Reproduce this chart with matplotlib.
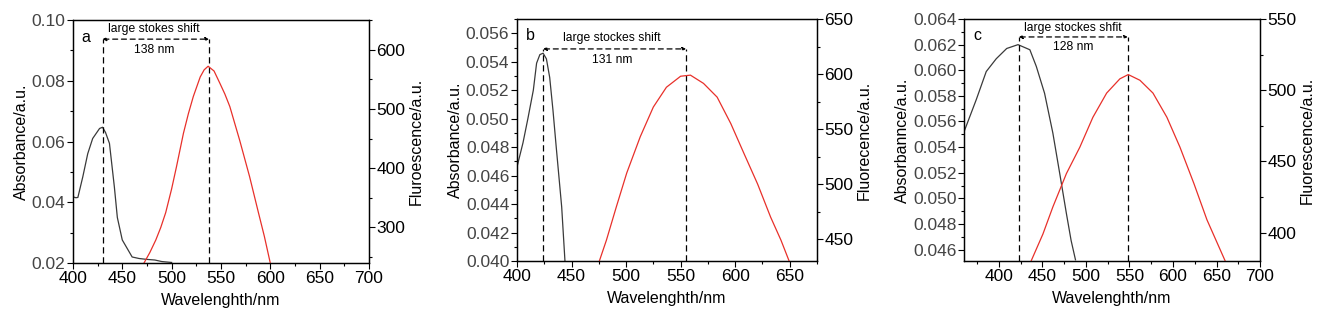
import matplotlib.pyplot as plt
from matplotlib.ticker import MultipleLocator, FormatStrFormatter

plt.rcParams["font.family"] = ["Liberation Sans", "DejaVu Sans"]

# ---------------- data ----------------
# panel a
a_abs_x = [400, 403, 405, 410, 415, 420, 427, 430, 433, 437, 442, 445, 450, 455, 460, 467, 475, 483, 490, 500]
a_abs_y = [0.0418, 0.0415, 0.0416, 0.0484, 0.056, 0.061, 0.0643, 0.0647, 0.063, 0.0594, 0.045, 0.035, 0.0276,
           0.0248, 0.022, 0.0215, 0.0212, 0.021, 0.0205, 0.0202]
a_fl_x = [472, 478, 484, 489, 494, 500, 505, 512, 517, 522, 529, 533, 537, 543, 549, 554, 559, 569, 579, 588, 594, 600]
a_fl_y = [240, 258, 279, 300, 325, 365, 403, 459, 492, 521, 554, 566, 572, 564, 543, 525, 504, 447, 386, 325, 285, 240]

# panel b
b_abs_x = [400, 405.5, 410, 415, 418, 421, 424, 427, 430, 433, 436, 441, 444]
b_abs_y = [0.0466, 0.0483, 0.050, 0.052, 0.0539, 0.0545, 0.0546, 0.0542, 0.0529, 0.0506, 0.048, 0.0438, 0.040]
b_fl_x = [475.5, 482, 491, 500.6, 513, 525, 537, 550, 559, 571, 583.5, 596, 608, 620.6, 632.5, 642, 649.5]
b_fl_y = [430, 449, 479, 510, 543, 570, 588, 598, 599, 591.5, 579, 555, 528, 500, 470, 449, 430]

# panel c
c_abs_x = [360, 374, 385.5, 397, 409, 422, 435.6, 443, 452.5, 462, 470, 477.6, 483, 488]
c_abs_y = [0.0552, 0.0577, 0.0599, 0.0609, 0.0617, 0.0620, 0.0616, 0.0603, 0.0582, 0.0551, 0.0519, 0.0488,
           0.0467, 0.0452]
c_fl_x = [437, 450.6, 462, 477.6, 493, 508, 523.8, 539, 548.6, 562, 577, 593, 608, 624, 639, 660]
c_fl_y = [380, 399, 418, 441.5, 460, 481, 498, 508, 511, 507, 498, 481, 460, 434.5, 409, 380]

panels = [
    dict(letter="a", ax_pos=[0.0548, 0.198, 0.2224, 0.741],
         abs_x=a_abs_x, abs_y=a_abs_y, fl_x=a_fl_x, fl_y=a_fl_y,
         xlim=(400, 700), ylim=(0.02, 0.10), ylim2=(240, 650),
         ymaj=0.02, ymin=0.01, yfmt="%.2f", y2maj=100, y2min=50,
         peaks=(430, 538), arrow_y=0.0937, title_y=0.0972, shift_y=0.0900,
         text="large stokes shift", shift="138 nm", text_x=482,
         ylabel="Absorbance/a.u.", ylabel2="Fluroescence/a.u."),
    dict(letter="b", ax_pos=[0.3884, 0.204, 0.2254, 0.738],
         abs_x=b_abs_x, abs_y=b_abs_y, fl_x=b_fl_x, fl_y=b_fl_y,
         xlim=(400, 675), ylim=(0.040, 0.057), ylim2=(430, 650),
         ymaj=0.002, ymin=0.001, yfmt="%.3f", y2maj=50, y2min=25,
         peaks=(424, 555), arrow_y=0.0549, title_y=0.0557, shift_y=0.0541,
         text="large stockes shift", shift="131 nm", text_x=487,
         ylabel="Absorbance/a.u.", ylabel2="Fluorecence/a.u."),
    dict(letter="c", ax_pos=[0.7243, 0.204, 0.2224, 0.738],
         abs_x=c_abs_x, abs_y=c_abs_y, fl_x=c_fl_x, fl_y=c_fl_y,
         xlim=(360, 700), ylim=(0.0451, 0.064), ylim2=(380, 550),
         ymaj=0.002, ymin=0.001, yfmt="%.3f", y2maj=50, y2min=25,
         peaks=(423, 548), arrow_y=0.0626, title_y=0.0633, shift_y=0.0618,
         text="large stockes shfit", shift="128 nm", text_x=485,
         ylabel="Absorbannce/a.u.", ylabel2="Fluorescence/a.u."),
]

fig = plt.figure(figsize=(13.31, 3.28), dpi=100)

for p in panels:
    ax = fig.add_axes(p["ax_pos"])
    ax2 = ax.twinx()

    ax.plot(p["abs_x"], p["abs_y"], color="#3a3a3a", lw=0.9)
    ax2.plot(p["fl_x"], p["fl_y"], color="#e8302a", lw=0.9)

    ax.set_xlim(*p["xlim"])
    ax.set_ylim(*p["ylim"])
    ax2.set_ylim(*p["ylim2"])

    ax.xaxis.set_major_locator(MultipleLocator(50))
    ax.xaxis.set_minor_locator(MultipleLocator(25))
    ax.yaxis.set_major_locator(MultipleLocator(p["ymaj"]))
    ax.yaxis.set_minor_locator(MultipleLocator(p["ymin"]))
    ax.yaxis.set_major_formatter(FormatStrFormatter(p["yfmt"]))
    ax2.yaxis.set_major_locator(MultipleLocator(p["y2maj"]))
    ax2.yaxis.set_minor_locator(MultipleLocator(p["y2min"]))

    for a in (ax, ax2):
        a.tick_params(which="major", direction="out", length=4, width=0.8, labelsize=12.5, pad=1.5)
        a.tick_params(which="minor", direction="out", length=2.5, width=0.8)
        for s in a.spines.values():
            s.set_linewidth(0.9)
    ax.tick_params(axis="y", labelcolor="#444444")

    ax.set_xlabel("Wavelenghth/nm", fontsize=11.5, labelpad=5)
    ax.set_ylabel(p["ylabel"], fontsize=11.5, labelpad=2)
    ax2.set_ylabel(p["ylabel2"], fontsize=11.5, labelpad=2)

    # dashed peak markers and arrow
    x1, x2 = p["peaks"]
    ax.plot([x1, x1], [p["ylim"][0], p["arrow_y"]], color="black", ls=(0, (5, 3)), lw=0.9)
    ax.plot([x2, x2], [p["ylim"][0], p["arrow_y"]], color="black", ls=(0, (5, 3)), lw=0.9)
    ax.annotate("", xy=(x2, p["arrow_y"]), xytext=(x1, p["arrow_y"]),
                arrowprops=dict(arrowstyle="<|-|>", color="black", lw=0.9, ls=(0, (4, 3)),
                                mutation_scale=5, shrinkA=0, shrinkB=0))
    ax.text(p["text_x"], p["title_y"], p["text"], fontsize=8.7, ha="center", va="center")
    ax.text(p["text_x"], p["shift_y"], p["shift"], fontsize=8.7, ha="center", va="center")
    ax.text(0.03, 0.93, p["letter"], transform=ax.transAxes, fontsize=11.5, ha="left", va="center")

fig.savefig("out.png", dpi=100)
